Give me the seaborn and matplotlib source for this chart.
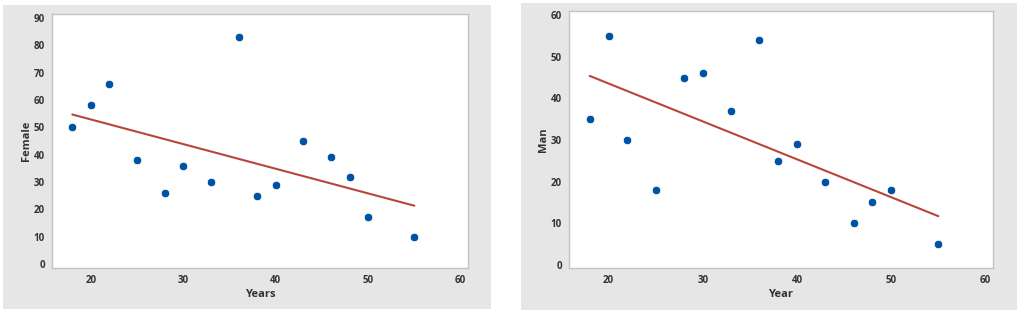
import matplotlib.pyplot as plt
import matplotlib.patches as mpatches
import seaborn as sns
import pandas as pd

# dados
years = [18, 20, 22, 25, 28, 30, 33, 36, 38, 40, 43, 46, 48, 50, 55]
female = [50, 58, 66, 38, 26, 36, 30, 83, 25, 29, 45, 39, 32, 17, 10]
man = [35, 55, 30, 18, 45, 46, 37, 54, 25, 29, 20, 10, 15, 18, 5]

df = pd.DataFrame({'Years': years, 'Female': female, 'Man': man})

sns.set_style('white')
plt.rcParams['font.family'] = ['Open Sans', 'DejaVu Sans']

W, H = 1021, 315
fig = plt.figure(figsize=(W / 100, H / 100), dpi=100)
fig.patch.set_facecolor('white')

# fundos cinzentos dos dois paineis (px)
for x0, y0, x1, y1 in [(3, 5, 491, 309), (521, 3, 1017, 310)]:
    fig.add_artist(mpatches.Rectangle((x0 / W, 1 - y1 / H), (x1 - x0) / W, (y1 - y0) / H,
                                      transform=fig.transFigure, facecolor='#e6e6e6',
                                      edgecolor='none', zorder=-5))

point_color = '#0052a5'
line_color = '#b8453d'

def painel(rect, ycol, xlabel, ylim, yticks):
    x0, y0, x1, y1 = rect
    ax = fig.add_axes([x0 / W, 1 - y1 / H, (x1 - x0) / W, (y1 - y0) / H])
    ax.set_zorder(2)
    ax.set_facecolor('white')
    sns.regplot(data=df, x='Years', y=ycol, ax=ax, ci=None, truncate=True,
                scatter_kws={'s': 38, 'color': point_color, 'edgecolor': 'white',
                             'linewidths': 0.6, 'alpha': 1, 'zorder': 3},
                line_kws={'color': line_color, 'linewidth': 1.5, 'zorder': 2})
    ax.set_xlim(15.8, 60.8)
    ax.set_ylim(*ylim)
    ax.set_xticks([20, 30, 40, 50, 60])
    ax.set_yticks(yticks)
    ax.set_xlabel(xlabel, fontsize=8, fontweight='bold', color='#333333', labelpad=2)
    ax.set_ylabel(ycol, fontsize=8, fontweight='bold', color='#333333', labelpad=1)
    ax.tick_params(axis='both', direction='out', length=3, width=0.8, color='#888888',
                   labelsize=7, labelcolor='#333333', pad=2)
    for lab in ax.get_xticklabels() + ax.get_yticklabels():
        lab.set_fontweight('bold')
    for sp in ax.spines.values():
        sp.set_color('#c4c4c4')
        sp.set_linewidth(1.0)
    return ax

painel((52, 14, 468, 268), 'Female', 'Years', (-1.5, 91.5), range(0, 91, 10))
painel((569, 11, 993, 268), 'Man', 'Year', (-0.8, 61), range(0, 61, 10))

plt.savefig('out.png', dpi=100)
plt.close()
